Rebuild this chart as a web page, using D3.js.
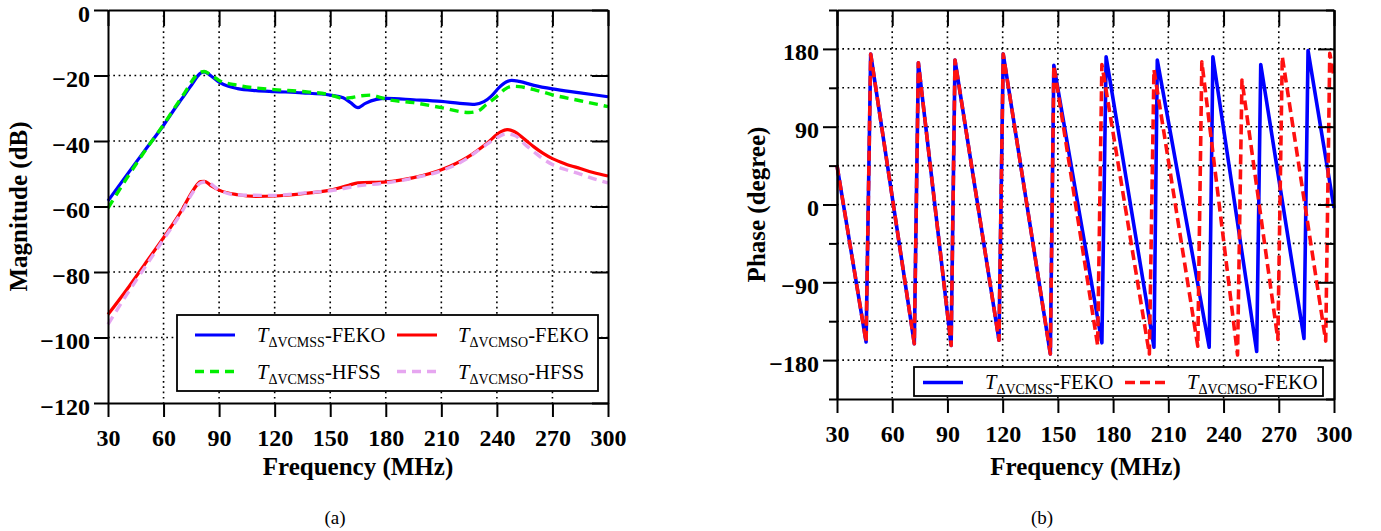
<!DOCTYPE html>
<html><head><meta charset="utf-8">
<script src="https://cdn.jsdelivr.net/npm/d3@7"></script>
<style>
body{margin:0;background:#fff}
svg{display:block}
text{font-family:"Liberation Serif","Times New Roman",serif;fill:#000}
</style>
</head><body>
<svg id="c" width="1381" height="531"></svg>
<script>
// ---------- data ----------
const freqTicks = [30, 60, 90, 120, 150, 180, 210, 240, 270, 300];
const magTicks = [0, -20, -40, -60, -80, -100, -120];
const phaseTicks = [180, 90, 0, -90, -180];
const phaseMinorTicks = [225, 135, 45, -45, -135, -225];

// (a) magnitude, dB
const magSSFekoF = [30, 40, 50, 60, 65, 70, 75, 80, 82, 86, 90, 95, 100, 110, 120, 135, 150, 157, 161, 165, 169, 175, 180, 195, 210, 220, 228, 233, 237, 241, 245, 248, 252, 260, 270, 285, 300];
const magSSFekoV = [-58.3, -50.5, -42.8, -35.2, -31, -27, -23, -19.3, -18.9, -20.3, -22, -23.3, -24, -24.6, -24.9, -25.3, -26, -26.8, -28.3, -29.8, -28.5, -27.3, -27, -27.4, -27.9, -28.5, -28.8, -28, -26.3, -23.8, -22, -21.5, -21.8, -23, -24.1, -25.3, -26.5];

const magSSHfssF = [30, 40, 50, 60, 70, 80, 82, 86, 90, 100, 120, 135, 150, 157, 162, 167, 172, 176, 180, 195, 210, 225, 230, 234, 240, 244, 248, 252, 260, 270, 285, 300];
const magSSHfssV = [-60.5, -51.5, -43, -35, -26.5, -19, -18.8, -20, -21.5, -23, -24.3, -24.9, -25.9, -27, -26.7, -26.2, -26, -26.5, -27.2, -28.3, -29.8, -31.3, -30.8, -29, -26.4, -24.3, -23.3, -23.4, -24.3, -25.9, -27.7, -29.5];

const magSOFekoF = [30, 40, 50, 60, 70, 76, 80, 82, 86, 90, 100, 110, 120, 135, 150, 160, 165, 180, 195, 210, 224, 235, 242, 245.5, 249, 255, 260, 265, 270, 277, 285, 292, 300];
const magSOFekoV = [-93, -85.5, -77.5, -69.5, -61, -55, -52.4, -52.3, -53.8, -55, -56.4, -56.9, -56.8, -56.1, -55, -53.5, -52.8, -52.5, -51.2, -48.8, -45, -40.5, -37.2, -36.5, -37, -39.5, -41.8, -43.8, -45.4, -47, -48.4, -49.6, -50.7];

const magSOHfssF = [30, 40, 50, 60, 70, 76, 80, 83, 90, 100, 120, 135, 150, 165, 180, 195, 210, 224, 232, 240, 245, 250, 255, 260, 265, 270, 277, 285, 292, 300];
const magSOHfssV = [-96, -87, -78.5, -70, -61.5, -55.5, -52.8, -52.5, -55, -56.5, -56.6, -55.9, -55.2, -53.7, -52.8, -51.3, -49.1, -45.3, -42, -39, -37.8, -38.4, -41, -43.3, -45.5, -47.2, -48.7, -50.1, -51.5, -52.8];

// (b) phase, degree
const phSSFekoF = [30, 45.8, 48.3, 72, 74.2, 92, 94.1, 118, 120.3, 145.9, 147.8, 173.9, 176.2, 202.2, 204, 232.2, 234.2, 258, 260.2, 283.7, 285.9, 300];
const phSSFekoV = [45, -159, 174, -161, 164, -163, 167, -157, 174, -173, 161, -160, 171, -165, 167, -165, 171, -170, 162, -155, 178, -4];

const phSOFekoF = [30, 45.8, 48.3, 72, 74.2, 92, 94.1, 118, 120.3, 145.9, 147.8, 171.6, 173.9, 199.7, 202.2, 226, 228.2, 247.6, 250, 269.5, 271.9, 295.5, 297.7, 300];
const phSOFekoV = [45, -159, 174, -161, 164, -163, 167, -157, 174, -173, 161, -163, 162, -173, 156, -164, 165, -174, 144, -156, 171, -158, 175, 148];

// ---------- drawing ----------
const svg = d3.select("#c");
const zip = (f, v) => f.map((d, i) => [d, v[i]]);

function panel(cfg) {
  const x = d3.scaleLinear().domain([30, 300]).range([cfg.left, cfg.right]);
  const y = d3.scaleLinear().domain(cfg.yDomain).range([cfg.bottom, cfg.top]);
  const g = svg.append("g");

  // grid
  const grid = g.append("g").attr("stroke", "#000").attr("stroke-width", 1.6)
    .attr("stroke-dasharray", "1.7,3.6").attr("fill", "none");
  freqTicks.slice(1, -1).forEach(t => {
    grid.append("line").attr("x1", x(t)).attr("x2", x(t)).attr("y1", cfg.top).attr("y2", cfg.bottom);
  });
  cfg.gridY.forEach(t => {
    grid.append("line").attr("x1", cfg.left).attr("x2", cfg.right).attr("y1", y(t)).attr("y2", y(t));
  });

  // series
  const line = d3.line().x(d => x(d[0])).y(d => y(d[1])).curve(cfg.curve);
  cfg.series.forEach(s => {
    g.append("path").datum(zip(s.f, s.v)).attr("d", line)
      .attr("fill", "none").attr("stroke", s.color).attr("stroke-width", s.width)
      .attr("stroke-dasharray", s.dash || null).attr("stroke-linejoin", "round");
  });

  // axes
  const styleAxis = sel => {
    sel.selectAll("path.domain").attr("stroke", "#000").attr("stroke-width", 2);
    sel.selectAll(".tick line").attr("stroke", "#000").attr("stroke-width", 2);
    sel.selectAll("text").attr("font-size", 24).attr("font-weight", "bold")
      .attr("font-family", "'Liberation Serif','Times New Roman',serif").attr("fill", "#000");
  };
  const bx = g.append("g").attr("transform", `translate(0,${cfg.bottom})`)
    .call(d3.axisBottom(x).tickValues(freqTicks).tickSize(14).tickSizeOuter(0).tickFormat(d3.format("d")));
  styleAxis(bx);
  bx.selectAll("text").attr("y", 43).attr("dy", 0);

  const tx = g.append("g").attr("transform", `translate(0,${cfg.top})`)
    .call(d3.axisTop(x).tickValues(freqTicks).tickSize(-16).tickSizeOuter(0).tickFormat(""));
  styleAxis(tx);

  const ly = g.append("g").attr("transform", `translate(${cfg.left},0)`)
    .call(d3.axisLeft(y).tickValues(cfg.yTicks).tickSize(14).tickSizeOuter(0).tickFormat(d3.format("d")));
  styleAxis(ly);
  ly.selectAll("text").attr("x", -18).attr("dy", "0.46em");

  const ry = g.append("g").attr("transform", `translate(${cfg.right},0)`)
    .call(d3.axisRight(y).tickValues(cfg.yTicks).tickSize(-16).tickSizeOuter(0).tickFormat(""));
  styleAxis(ry);

  if (cfg.yMinor) {
    const lm = g.append("g").attr("transform", `translate(${cfg.left},0)`)
      .call(d3.axisLeft(y).tickValues(cfg.yMinor).tickSize(8).tickSizeOuter(0).tickFormat(""));
    styleAxis(lm);
    const rm = g.append("g").attr("transform", `translate(${cfg.right},0)`)
      .call(d3.axisRight(y).tickValues(cfg.yMinor).tickSize(-8).tickSizeOuter(0).tickFormat(""));
    styleAxis(rm);
  }

  // axis titles
  g.append("text").attr("x", (cfg.left + cfg.right) / 2).attr("y", 475)
    .attr("text-anchor", "middle").attr("font-size", 25).attr("font-weight", "bold")
    .text("Frequency (MHz)");
  g.append("text").attr("transform", `translate(${cfg.yLabelX},${(cfg.top + cfg.bottom) / 2}) rotate(-90)`)
    .attr("text-anchor", "middle").attr("font-size", 25).attr("font-weight", "bold")
    .text(cfg.yLabel);
  g.append("text").attr("x", cfg.capX).attr("y", 524).attr("text-anchor", "middle")
    .attr("font-size", 19).text(cfg.caption);

  // legend
  const L = cfg.legend;
  g.append("rect").attr("x", L.x).attr("y", L.y).attr("width", L.w).attr("height", L.h)
    .attr("fill", "#fff").attr("stroke", "#000").attr("stroke-width", 1.8);
  L.items.forEach(it => {
    g.append("line").attr("x1", it.lx).attr("x2", it.lx + 40).attr("y1", it.ly).attr("y2", it.ly)
      .attr("stroke", it.s.color).attr("stroke-width", it.s.width)
      .attr("stroke-dasharray", it.s.dash || null);
    const t = g.append("text").attr("x", it.tx).attr("y", it.ty).attr("font-size", 20.5);
    t.append("tspan").attr("font-style", "italic").text("T");
    t.append("tspan").attr("font-size", 14).attr("dy", 5).text(it.sub);
    t.append("tspan").attr("dy", -5).text(it.suffix);
  });
}

const sBlue = { color: "#0000ff", width: 3.2 };
const sGreen = { color: "#00ee00", width: 3.4, dash: "9,6" };
const sRed = { color: "#ff0000", width: 3.2 };
const sViolet = { color: "#e6a6f0", width: 3.4, dash: "9,6" };
const sBlue2 = { color: "#0000ff", width: 3.6 };
const sRed2 = { color: "#ff1010", width: 3.6, dash: "10,5" };

panel({
  left: 108, right: 608, top: 10, bottom: 403,
  yDomain: [-120, 0], yTicks: magTicks, gridY: magTicks.slice(1, -1),
  curve: d3.curveMonotoneX,
  yLabel: "Magnitude (dB)", yLabelX: 27, capX: 335, caption: "(a)",
  series: [
    Object.assign({ f: magSSFekoF, v: magSSFekoV }, sBlue),
    Object.assign({ f: magSSHfssF, v: magSSHfssV }, sGreen),
    Object.assign({ f: magSOFekoF, v: magSOFekoV }, sRed),
    Object.assign({ f: magSOHfssF, v: magSOHfssV }, sViolet)
  ],
  legend: {
    x: 177, y: 315, w: 421, h: 76,
    items: [
      { s: sBlue, lx: 195, ly: 335, tx: 257, ty: 342, sub: "ΔVCMSS", suffix: "-FEKO" },
      { s: sRed, lx: 397, ly: 335, tx: 458, ty: 342, sub: "ΔVCMSO", suffix: "-FEKO" },
      { s: sGreen, lx: 195, ly: 371.5, tx: 257, ty: 379, sub: "ΔVCMSS", suffix: "-HFSS" },
      { s: sViolet, lx: 397, ly: 371.5, tx: 458, ty: 379, sub: "ΔVCMSO", suffix: "-HFSS" }
    ]
  }
});

panel({
  left: 837, right: 1334, top: 10, bottom: 399,
  yDomain: [-225, 225], yTicks: phaseTicks, yMinor: phaseMinorTicks,
  gridY: [180, 135, 90, 45, 0, -45, -90, -135, -180],
  curve: d3.curveLinear,
  yLabel: "Phase (degree)", yLabelX: 765, capX: 1042, caption: "(b)",
  series: [
    Object.assign({ f: phSSFekoF, v: phSSFekoV }, sBlue2),
    Object.assign({ f: phSOFekoF, v: phSOFekoV }, sRed2)
  ],
  legend: {
    x: 914, y: 367, w: 409, h: 29,
    items: [
      { s: sBlue2, lx: 923, ly: 382.5, tx: 985, ty: 388.5, sub: "ΔVCMSS", suffix: "-FEKO" },
      { s: sRed2, lx: 1125, ly: 382.5, tx: 1187, ty: 388.5, sub: "ΔVCMSO", suffix: "-FEKO" }
    ]
  }
});
</script>
</body></html>
